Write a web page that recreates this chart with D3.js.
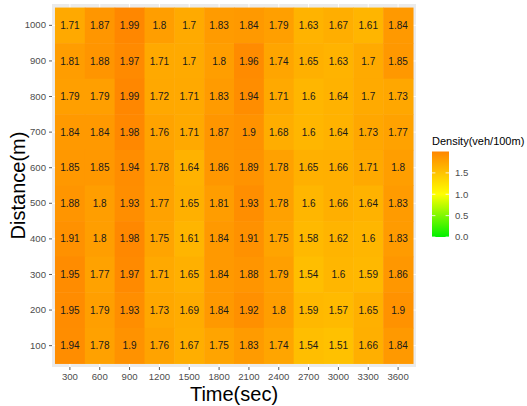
<!DOCTYPE html>
<html>
<head>
<meta charset="utf-8">
<script src="https://cdn.jsdelivr.net/npm/d3@7"></script>
<style>
  body { margin: 0; background: #fff; }
  text { font-family: "Liberation Sans", Arial, sans-serif; }
</style>
</head>
<body>
<svg id="chart" width="527" height="406"></svg>
<script>
// time bins (sec) along x, distance bins (m) along y
const times = [300, 600, 900, 1200, 1500, 1800, 2100, 2400, 2700, 3000, 3300, 3600];
const distances = [1000, 900, 800, 700, 600, 500, 400, 300, 200, 100];

// density rows, one per distance (top row = 1000 m)
const d1000 = [1.71, 1.87, 1.99, 1.8, 1.7, 1.83, 1.84, 1.79, 1.63, 1.67, 1.61, 1.84];
const d900  = [1.81, 1.88, 1.97, 1.71, 1.7, 1.8, 1.96, 1.74, 1.65, 1.63, 1.7, 1.85];
const d800  = [1.79, 1.79, 1.99, 1.72, 1.71, 1.83, 1.94, 1.71, 1.6, 1.64, 1.7, 1.73];
const d700  = [1.84, 1.84, 1.98, 1.76, 1.71, 1.87, 1.9, 1.68, 1.6, 1.64, 1.73, 1.77];
const d600  = [1.85, 1.85, 1.94, 1.78, 1.64, 1.86, 1.89, 1.78, 1.65, 1.66, 1.71, 1.8];
const d500  = [1.88, 1.8, 1.93, 1.77, 1.65, 1.81, 1.93, 1.78, 1.6, 1.66, 1.64, 1.83];
const d400  = [1.91, 1.8, 1.98, 1.75, 1.61, 1.84, 1.91, 1.75, 1.58, 1.62, 1.6, 1.83];
const d300  = [1.95, 1.77, 1.97, 1.71, 1.65, 1.84, 1.88, 1.79, 1.54, 1.6, 1.59, 1.86];
const d200  = [1.95, 1.79, 1.93, 1.73, 1.69, 1.84, 1.92, 1.8, 1.59, 1.57, 1.65, 1.9];
const d100  = [1.94, 1.78, 1.9, 1.76, 1.67, 1.75, 1.83, 1.74, 1.54, 1.51, 1.66, 1.84];
const rows = [d1000, d900, d800, d700, d600, d500, d400, d300, d200, d100];

const legendTicks = [0, 0.5, 1.0, 1.5];
const legendDomain = [0, 2];

const svg = d3.select("#chart");

const panel = {left: 52, right: 416, top: 4, bottom: 367};

const x = d3.scaleBand()
    .domain(times)
    .range([panel.left, panel.right])
    .paddingInner(0)
    .paddingOuter(0.1);

const y = d3.scaleBand()
    .domain(distances)
    .range([panel.top, panel.bottom])
    .paddingInner(0)
    .paddingOuter(0.1);

const color = d3.scaleLinear()
    .domain([0, 1, 2])
    .range(["#00f000", "#ffff00", "#ff8600"])
    .interpolate(d3.interpolateRgb)
    .clamp(true);

// flatten into cells
const cells = [];
distances.forEach((dist, i) => {
    times.forEach((t, j) => {
        cells.push({time: t, dist: dist, value: rows[i][j]});
    });
});

// panel background + white grid lines
svg.append("rect")
    .attr("x", panel.left)
    .attr("y", panel.top)
    .attr("width", panel.right - panel.left)
    .attr("height", panel.bottom - panel.top)
    .attr("fill", "#ebebeb");

svg.append("g").selectAll("line")
    .data(times)
    .join("line")
    .attr("x1", d => x(d) + x.bandwidth() / 2)
    .attr("x2", d => x(d) + x.bandwidth() / 2)
    .attr("y1", panel.top)
    .attr("y2", panel.bottom)
    .attr("stroke", "#fff")
    .attr("stroke-width", 1);

svg.append("g").selectAll("line")
    .data(distances)
    .join("line")
    .attr("y1", d => y(d) + y.bandwidth() / 2)
    .attr("y2", d => y(d) + y.bandwidth() / 2)
    .attr("x1", panel.left)
    .attr("x2", panel.right)
    .attr("stroke", "#fff")
    .attr("stroke-width", 1);

// tiles
svg.append("g").selectAll("rect")
    .data(cells)
    .join("rect")
    .attr("x", d => x(d.time))
    .attr("y", d => y(d.dist))
    .attr("width", x.bandwidth() + 0.5)
    .attr("height", y.bandwidth() + 0.5)
    .attr("fill", d => color(d.value));

// value labels
svg.append("g").selectAll("text")
    .data(cells)
    .join("text")
    .attr("x", d => x(d.time) + x.bandwidth() / 2)
    .attr("y", d => y(d.dist) + y.bandwidth() / 2)
    .attr("dy", "0.36em")
    .attr("text-anchor", "middle")
    .attr("font-size", "10px")
    .attr("fill", "#1a1a1a")
    .text(d => d.value);

// axes
const xAxis = svg.append("g")
    .attr("transform", `translate(0,${panel.bottom})`)
    .call(d3.axisBottom(x).tickSize(3).tickPadding(3));
const yAxis = svg.append("g")
    .attr("transform", `translate(${panel.left},0)`)
    .call(d3.axisLeft(y).tickSize(3).tickPadding(3));

[xAxis, yAxis].forEach(g => {
    g.select(".domain").remove();
    g.selectAll(".tick line").attr("stroke", "#333").attr("stroke-width", 0.8);
    g.selectAll(".tick text")
        .attr("fill", "#4d4d4d")
        .attr("font-size", "9.6px")
        .attr("font-family", "Liberation Sans, Arial, sans-serif");
});

// axis titles
svg.append("text")
    .attr("x", (panel.left + panel.right) / 2)
    .attr("y", 401)
    .attr("text-anchor", "middle")
    .attr("font-size", "20px")
    .attr("fill", "#000")
    .text("Time(sec)");

svg.append("text")
    .attr("transform", `translate(25,${(panel.top + panel.bottom) / 2}) rotate(-90)`)
    .attr("text-anchor", "middle")
    .attr("font-size", "20px")
    .attr("fill", "#000")
    .text("Distance(m)");

// colour bar legend
const bar = {x: 432, y: 151.5, width: 17, height: 85.5};
const legendY = d3.scaleLinear()
    .domain(legendDomain)
    .range([bar.y + bar.height, bar.y]);

const defs = svg.append("defs");
const grad = defs.append("linearGradient")
    .attr("id", "densityGrad")
    .attr("x1", 0).attr("y1", 1)
    .attr("x2", 0).attr("y2", 0);
d3.range(0, 1.0001, 0.05).forEach(t => {
    grad.append("stop")
        .attr("offset", t)
        .attr("stop-color", color(legendDomain[0] + t * (legendDomain[1] - legendDomain[0])));
});

const legend = svg.append("g");
legend.append("text")
    .attr("x", bar.x)
    .attr("y", 145)
    .attr("font-size", "11px")
    .attr("fill", "#000")
    .text("Density(veh/100m)");

legend.append("rect")
    .attr("x", bar.x)
    .attr("y", bar.y)
    .attr("width", bar.width)
    .attr("height", bar.height)
    .attr("fill", "url(#densityGrad)");

legend.append("g").selectAll("line")
    .data(legendTicks)
    .join("line")
    .attr("x1", bar.x)
    .attr("x2", bar.x + 3.4)
    .attr("y1", d => legendY(d))
    .attr("y2", d => legendY(d))
    .attr("stroke", "#fff")
    .attr("stroke-width", 0.8);

legend.append("g").selectAll("line")
    .data(legendTicks)
    .join("line")
    .attr("x1", bar.x + bar.width - 3.4)
    .attr("x2", bar.x + bar.width)
    .attr("y1", d => legendY(d))
    .attr("y2", d => legendY(d))
    .attr("stroke", "#fff")
    .attr("stroke-width", 0.8);

legend.append("g").selectAll("text")
    .data(legendTicks)
    .join("text")
    .attr("x", bar.x + bar.width + 6)
    .attr("y", d => legendY(d))
    .attr("dy", "0.35em")
    .attr("font-size", "9.6px")
    .attr("fill", "#4d4d4d")
    .text(d => d3.format(".1f")(d));
</script>
</body>
</html>
